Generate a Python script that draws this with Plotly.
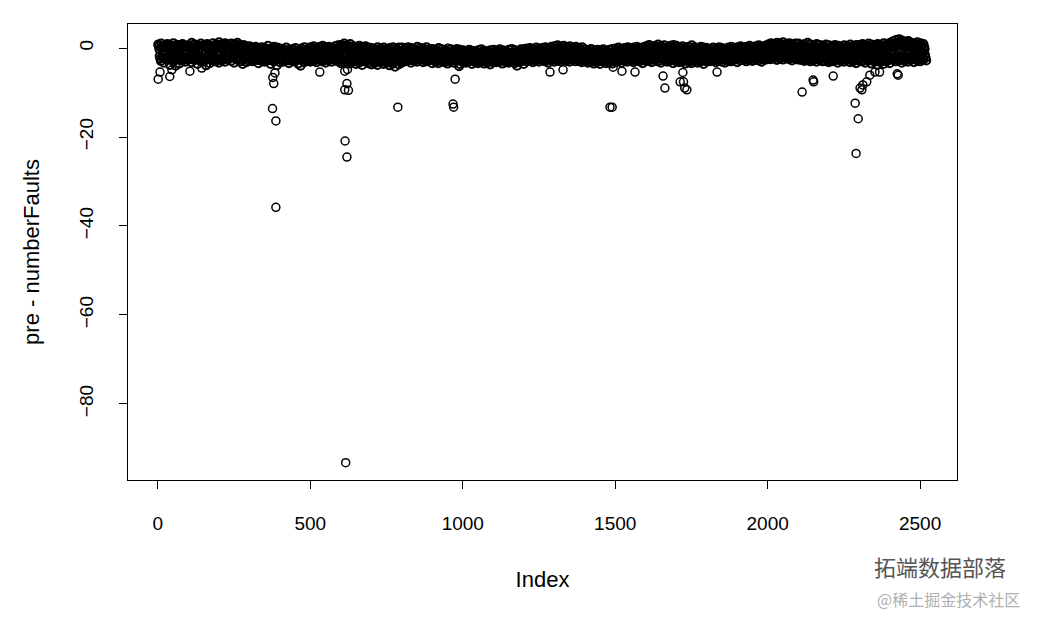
import numpy as np
import plotly.graph_objects as go

# Residuals (pre - numberFaults): main band read every 10th observation, in six layers
band_a = [0.8, 1.0, 0.4, 0.9, 0.6, 1.1, 0.7, 0.3, 0.9, 0.5,
          0.6, 1.2, 0.8, 0.5, 1.0, 0.7, 0.9, 0.4, 1.1, 0.8,
          1.3, 0.9, 1.1, 0.6, 1.0, 0.8, 1.2, 0.5, 0.7, 0.4,
          0.4, 0.1, 0.3, -0.2, 0.2, 0.0, 0.5, -0.1, 0.3, 0.1,
          -0.1, -0.3, 0.1, -0.4, -0.2, 0.0, -0.5, -0.1, 0.2, -0.3,
          0.2, 0.4, 0.0, 0.3, 0.5, 0.1, 0.3, -0.1, 0.4, 0.6,
          0.7, 1.0, 0.6, 0.9, 0.4, 0.3, 0.5, 0.2, 0.4, 0.1,
          0.0, -0.2, 0.2, -0.1, 0.1, -0.3, 0.0, 0.2, -0.2, 0.1,
          0.1, -0.1, 0.2, 0.0, -0.2, 0.3, 0.0, -0.1, 0.2, -0.3,
          -0.2, -0.4, 0.0, -0.3, -0.5, -0.1, -0.3, -0.6, -0.2, -0.4,
          -0.5, -0.7, -0.4, -0.6, -0.8, -0.5, -0.3, -0.6, -0.7, -0.5,
          -0.4, -0.6, -0.3, -0.5, -0.7, -0.4, -0.2, -0.5, -0.6, -0.3,
          -0.2, -0.1, 0.0, -0.3, 0.1, -0.1, 0.0, 0.2, -0.1, 0.3,
          0.4, 0.6, 0.3, 0.5, 0.2, 0.4, 0.1, 0.3, 0.0, 0.2,
          -0.3, -0.5, -0.2, -0.6, -0.4, -0.5, -0.3, -0.6, -0.4, -0.2,
          -0.1, 0.1, -0.2, 0.0, 0.2, -0.1, 0.1, 0.3, 0.0, 0.2,
          0.4, 0.7, 0.3, 0.5, 0.8, 0.4, 0.6, 0.2, 0.5, 0.7,
          0.5, 0.2, 0.4, 0.1, 0.3, 0.6, 0.2, 0.0, 0.3, 0.1,
          0.0, -0.2, 0.1, -0.1, 0.2, 0.0, -0.2, 0.1, 0.3, 0.0,
          0.2, 0.4, 0.1, 0.3, 0.5, 0.2, 0.4, 0.6, 0.3, 0.5,
          0.8, 1.1, 0.9, 1.2, 1.0, 1.3, 0.9, 1.1, 0.8, 1.0,
          1.0, 0.7, 0.9, 1.2, 0.8, 0.6, 0.9, 0.7, 0.5, 0.8,
          0.6, 0.4, 0.7, 0.5, 0.3, 0.6, 0.4, 0.8, 0.5, 0.7,
          0.7, 0.9, 0.6, 1.0, 0.8, 0.5, 0.9, 0.7, 1.1, 0.8,
          1.2, 1.5, 1.8, 2.0, 1.7, 1.4, 1.6, 1.2, 1.0, 1.3,
          1.1, 0.9]
band_e = [0.4, 0.2, 0.6, 0.3, 0.5, 0.1, 0.4, 0.7, 0.2, 0.5,
          0.3, 0.6, 0.2, 0.5, 0.1, 0.4, 0.6, 0.3, 0.5, 0.2,
          0.7, 0.5, 0.8, 0.4, 0.6, 0.3, 0.7, 0.2, 0.4, 0.1,
          -0.2, -0.4, 0.0, -0.3, -0.5, -0.1, -0.3, -0.6, -0.2, -0.4,
          -0.7, -0.9, -0.6, -0.8, -0.5, -0.9, -0.7, -0.6, -0.8, -1.0,
          -0.3, -0.1, -0.4, -0.2, 0.0, -0.3, -0.1, -0.5, -0.2, 0.0,
          0.3, 0.1, 0.4, 0.2, -0.1, -0.2, 0.0, -0.3, -0.1, -0.4,
          -0.6, -0.4, -0.7, -0.5, -0.8, -0.6, -0.4, -0.7, -0.5, -0.6,
          -0.5, -0.7, -0.4, -0.6, -0.8, -0.5, -0.6, -0.4, -0.7, -0.5,
          -0.9, -0.7, -1.0, -0.8, -0.6, -0.9, -1.1, -0.8, -0.7, -1.0,
          -1.1, -1.3, -1.0, -1.2, -1.4, -1.1, -0.9, -1.2, -1.3, -1.0,
          -1.0, -1.2, -0.9, -1.1, -0.8, -1.2, -1.0, -1.3, -0.9, -1.1,
          -0.6, -0.5, -0.7, -0.4, -0.6, -0.3, -0.5, -0.6, -0.4, -0.2,
          -0.2, 0.0, -0.3, -0.1, -0.4, -0.2, -0.5, -0.3, -0.4, -0.6,
          -1.0, -1.1, -0.8, -1.2, -0.9, -1.1, -0.8, -1.0, -1.2, -0.9,
          -0.6, -0.4, -0.7, -0.5, -0.3, -0.6, -0.4, -0.2, -0.5, -0.3,
          -0.1, 0.1, -0.2, 0.0, 0.2, -0.1, 0.0, -0.3, 0.1, 0.0,
          -0.2, -0.4, -0.1, -0.3, -0.5, -0.2, -0.3, -0.6, -0.4, -0.3,
          -0.5, -0.7, -0.4, -0.6, -0.3, -0.5, -0.7, -0.4, -0.2, -0.5,
          -0.3, -0.1, -0.4, -0.2, 0.0, -0.3, -0.1, 0.1, -0.2, 0.0,
          0.4, 0.6, 0.3, 0.5, 0.7, 0.4, 0.6, 0.3, 0.5, 0.4,
          0.3, 0.1, 0.4, 0.2, 0.0, 0.3, 0.1, -0.1, 0.2, 0.0,
          0.0, -0.2, 0.1, -0.1, -0.3, 0.0, -0.2, 0.2, -0.1, 0.1,
          0.2, 0.4, 0.1, 0.3, 0.0, 0.2, 0.4, 0.1, 0.5, 0.3,
          0.7, 0.9, 1.2, 1.4, 1.1, 0.8, 1.0, 0.6, 0.4, 0.7,
          0.5, 0.3]
band_b = [-0.3, 0.1, -0.6, -0.1, -0.4, 0.0, -0.5, -0.2, 0.2, -0.4,
          -0.2, -0.5, 0.0, -0.3, -0.6, 0.1, -0.4, -0.1, -0.5, 0.0,
          0.0, -0.3, 0.2, -0.5, -0.1, -0.4, 0.1, -0.6, -0.2, -0.5,
          -0.8, -1.1, -0.6, -0.9, -1.2, -0.7, -1.0, -0.8, -1.3, -0.6,
          -1.1, -1.4, -0.9, -1.2, -1.5, -1.0, -1.3, -0.8, -1.4, -1.1,
          -0.9, -0.6, -1.1, -0.8, -0.5, -1.0, -0.7, -1.2, -0.8, -0.6,
          -0.4, -0.2, -0.6, -0.3, -0.7, -0.8, -0.5, -0.9, -0.6, -1.0,
          -1.1, -1.3, -0.9, -1.2, -1.0, -1.4, -0.8, -1.1, -1.3, -0.9,
          -1.0, -1.2, -0.8, -1.1, -1.3, -0.9, -1.0, -1.2, -0.7, -1.1,
          -1.3, -1.1, -1.5, -1.2, -1.4, -1.0, -1.3, -1.6, -1.2, -1.4,
          -1.5, -1.3, -1.7, -1.4, -1.6, -1.2, -1.5, -1.8, -1.4, -1.6,
          -1.4, -1.6, -1.2, -1.5, -1.3, -1.7, -1.4, -1.2, -1.6, -1.4,
          -1.1, -0.9, -1.2, -1.0, -0.8, -1.1, -1.0, -0.7, -0.9, -0.8,
          -0.7, -0.5, -0.9, -0.6, -0.8, -0.6, -1.0, -0.7, -0.9, -1.1,
          -1.4, -1.2, -1.6, -1.3, -1.5, -1.4, -1.2, -1.6, -1.3, -1.1,
          -1.0, -1.2, -0.9, -1.1, -0.8, -1.0, -0.9, -0.7, -1.0, -0.8,
          -0.7, -0.5, -0.8, -0.6, -0.4, -0.7, -0.5, -0.9, -0.6, -0.4,
          -0.8, -1.0, -0.7, -0.9, -1.1, -0.8, -0.6, -1.0, -0.9, -1.1,
          -1.0, -1.2, -0.9, -1.1, -0.8, -1.0, -1.2, -0.9, -0.7, -1.0,
          -0.8, -0.6, -0.9, -0.7, -0.5, -0.8, -0.6, -0.4, -0.7, -0.5,
          -0.2, 0.0, -0.3, 0.1, -0.1, 0.2, -0.2, 0.0, -0.3, -0.1,
          -0.2, -0.4, -0.1, -0.3, -0.5, -0.2, -0.4, -0.6, -0.3, -0.5,
          -0.6, -0.8, -0.5, -0.7, -0.9, -0.6, -0.8, -0.4, -0.7, -0.5,
          -0.4, -0.2, -0.5, -0.3, -0.6, -0.4, -0.2, -0.5, -0.1, -0.3,
          0.2, 0.4, 0.6, 0.8, 0.5, 0.3, 0.4, 0.1, -0.1, 0.2,
          0.0, -0.2]
band_c = [-1.8, -1.5, -2.1, -1.6, -1.9, -1.3, -2.0, -1.7, -1.4, -2.2,
          -1.6, -2.0, -1.4, -1.8, -2.2, -1.5, -1.9, -1.7, -2.1, -1.3,
          -1.5, -1.8, -1.3, -2.0, -1.6, -1.2, -1.9, -1.4, -1.7, -2.0,
          -1.9, -2.2, -1.7, -2.0, -2.3, -1.8, -2.1, -1.6, -2.2, -1.9,
          -2.0, -2.3, -1.8, -2.2, -1.9, -2.4, -2.1, -1.7, -2.2, -2.0,
          -1.9, -2.2, -1.7, -2.0, -1.6, -2.3, -1.8, -2.1, -1.7, -2.0,
          -1.8, -1.6, -2.0, -1.7, -2.1, -2.2, -1.9, -2.3, -2.0, -2.4,
          -2.2, -2.5, -2.0, -2.3, -2.6, -2.1, -2.4, -1.9, -2.3, -2.1,
          -2.0, -1.8, -2.2, -1.9, -2.1, -1.7, -2.3, -2.0, -1.8, -2.2,
          -2.2, -2.4, -2.0, -2.3, -2.1, -2.5, -2.2, -1.9, -2.4, -2.1,
          -2.4, -2.2, -2.6, -2.3, -2.5, -2.1, -2.4, -2.7, -2.3, -2.5,
          -2.3, -2.1, -2.5, -2.2, -2.4, -2.0, -2.3, -2.6, -2.2, -2.4,
          -2.0, -2.2, -1.8, -2.1, -1.9, -2.3, -2.0, -1.7, -2.1, -1.9,
          -1.8, -1.6, -2.0, -1.7, -1.9, -1.5, -2.0, -1.8, -2.1, -2.2,
          -2.3, -2.5, -2.1, -2.4, -2.2, -2.6, -2.3, -2.1, -2.4, -2.2,
          -2.0, -1.8, -2.2, -1.9, -2.1, -1.8, -2.0, -1.7, -2.1, -1.9,
          -1.8, -1.6, -2.0, -1.7, -1.9, -1.5, -1.8, -2.1, -1.7, -1.9,
          -2.0, -1.8, -2.2, -1.9, -2.1, -1.7, -2.0, -2.3, -1.9, -2.1,
          -2.0, -2.2, -1.8, -2.1, -1.9, -2.0, -2.3, -1.8, -1.9, -2.1,
          -1.8, -1.9, -1.6, -1.8, -1.7, -1.9, -1.6, -1.8, -1.5, -1.7,
          -1.3, -1.1, -1.5, -1.2, -1.4, -1.0, -1.3, -1.5, -1.2, -1.4,
          -1.5, -1.7, -1.4, -1.6, -1.8, -1.5, -1.7, -1.9, -1.6, -1.8,
          -1.8, -1.9, -1.6, -2.0, -1.7, -1.9, -1.6, -1.8, -2.0, -1.7,
          -1.7, -1.5, -1.9, -1.6, -1.8, -2.0, -1.7, -1.9, -1.6, -1.8,
          -1.2, -1.0, -0.8, -0.9, -1.1, -1.3, -1.0, -1.4, -1.2, -1.1,
          -1.3, -1.5]
band_f = [-2.4, -2.2, -2.6, -2.3, -2.5, -4.0, -2.4, -2.2, -2.6, -2.3,
          -2.5, -2.3, -2.6, -2.2, -2.4, -3.9, -2.5, -2.3, -2.7, -2.4,
          -2.2, -2.4, -2.0, -2.3, -2.1, -2.5, -2.2, -3.6, -2.3, -2.1,
          -2.5, -2.3, -2.7, -2.4, -2.6, -2.2, -2.5, -2.8, -2.4, -2.6,
          -2.6, -2.4, -2.8, -2.5, -2.7, -2.3, -4.0, -2.5, -2.7, -2.4,
          -2.4, -2.6, -2.3, -2.5, -2.7, -2.4, -2.2, -2.6, -2.5, -2.3,
          -2.7, -2.5, -2.9, -2.6, -2.8, -2.7, -3.0, -2.6, -2.9, -2.8,
          -2.9, -3.1, -2.8, -3.0, -2.7, -3.2, -2.9, -4.2, -2.8, -3.0,
          -2.5, -2.3, -2.7, -2.4, -2.6, -2.2, -2.5, -2.7, -2.4, -2.6,
          -2.7, -2.9, -2.6, -2.8, -2.5, -2.9, -2.7, -2.6, -4.1, -2.8,
          -2.8, -3.0, -2.7, -2.9, -2.6, -3.0, -2.8, -2.9, -2.7, -3.1,
          -2.7, -2.9, -2.6, -2.8, -3.0, -2.7, -2.9, -4.0, -2.6, -2.8,
          -2.5, -2.3, -2.6, -2.4, -2.6, -2.3, -2.5, -2.7, -2.4, -2.6,
          -2.3, -2.1, -2.4, -2.2, -2.5, -2.3, -2.4, -2.2, -2.5, -2.3,
          -2.8, -2.6, -2.9, -2.7, -3.0, -2.8, -2.6, -2.9, -2.7, -2.8,
          -2.5, -2.3, -2.6, -2.4, -2.5, -2.7, -2.3, -2.5, -2.6, -2.4,
          -2.4, -2.6, -2.3, -2.5, -2.2, -2.6, -2.4, -2.7, -2.3, -2.5,
          -2.6, -2.8, -2.5, -2.7, -2.9, -2.6, -2.8, -2.5, -2.7, -2.9,
          -2.5, -2.3, -2.6, -2.4, -2.6, -2.3, -2.5, -2.7, -2.4, -2.5,
          -2.3, -2.1, -2.4, -2.2, -2.3, -2.1, -2.4, -2.2, -2.3, -2.0,
          -2.0, -1.8, -2.1, -1.9, -2.0, -1.8, -2.1, -1.9, -2.0, -2.2,
          -2.2, -2.4, -2.1, -2.3, -2.5, -2.2, -2.4, -2.3, -2.2, -2.5,
          -2.4, -2.6, -2.3, -2.5, -2.4, -2.6, -2.3, -2.5, -2.7, -2.4,
          -2.5, -2.3, -2.6, -2.4, -2.7, -2.5, -2.8, -2.6, -2.4, -2.7,
          -2.2, -2.0, -2.3, -2.1, -2.4, -2.2, -2.0, -2.3, -2.1, -2.2,
          -2.0, -2.2]
band_d = [-2.9, -3.3, -2.6, -3.8, -3.0, -2.7, -3.5, -2.8, -3.1, -2.6,
          -3.2, -2.7, -3.6, -2.9, -3.1, -2.6, -3.4, -2.8, -3.0, -3.3,
          -2.8, -3.1, -2.5, -2.9, -3.3, -2.6, -3.0, -2.7, -3.2, -2.9,
          -3.0, -2.7, -3.4, -2.9, -3.1, -2.8, -3.6, -3.0, -3.9, -3.2,
          -3.1, -2.8, -3.4, -2.9, -3.0, -3.5, -2.7, -3.2, -2.9, -3.1,
          -2.9, -3.2, -2.7, -3.0, -3.3, -2.8, -3.1, -2.6, -3.0, -3.4,
          -3.2, -2.9, -3.5, -3.1, -3.6, -3.3, -3.8, -3.0, -3.4, -3.7,
          -3.4, -3.8, -3.2, -3.6, -3.3, -3.9, -3.5, -3.1, -3.7, -3.3,
          -3.0, -2.8, -3.3, -2.9, -3.1, -2.7, -3.2, -3.0, -2.8, -3.4,
          -3.1, -3.4, -2.9, -3.2, -3.5, -3.0, -3.3, -2.9, -3.6, -3.2,
          -3.3, -3.1, -3.6, -3.2, -3.4, -3.0, -3.5, -3.3, -3.7, -3.2,
          -3.2, -3.0, -3.5, -3.1, -3.3, -2.9, -3.4, -3.2, -3.0, -3.6,
          -3.0, -2.8, -3.2, -2.9, -3.1, -2.7, -3.0, -3.3, -2.8, -3.1,
          -2.8, -3.0, -2.6, -2.9, -3.1, -2.7, -3.0, -2.8, -3.2, -3.0,
          -3.3, -3.1, -3.5, -3.2, -3.6, -3.0, -3.4, -3.2, -3.5, -3.1,
          -3.0, -3.3, -2.8, -3.1, -2.9, -3.2, -2.8, -3.0, -3.4, -2.9,
          -2.9, -3.2, -2.7, -3.0, -3.3, -2.8, -3.1, -2.9, -3.4, -3.0,
          -3.2, -3.0, -3.5, -3.1, -3.4, -2.9, -3.3, -3.1, -3.6, -3.0,
          -3.0, -2.8, -3.2, -2.9, -3.1, -3.3, -2.9, -3.0, -2.7, -3.2,
          -2.8, -2.6, -3.0, -2.7, -2.9, -2.6, -2.8, -3.1, -2.7, -2.5,
          -2.5, -2.3, -2.7, -2.4, -2.6, -2.2, -2.5, -2.8, -2.4, -2.6,
          -2.7, -2.9, -2.6, -3.0, -2.8, -3.1, -2.7, -3.0, -2.9, -3.2,
          -3.0, -2.8, -3.3, -2.9, -3.1, -2.7, -3.2, -3.0, -3.4, -2.9,
          -3.0, -3.3, -2.8, -3.5, -3.1, -3.8, -3.2, -3.6, -3.0, -3.4,
          -2.6, -3.0, -2.8, -3.3, -2.9, -3.1, -2.7, -3.2, -2.8, -3.0,
          -2.6, -2.8]
band_layers = [band_a, band_e, band_b, band_c, band_f, band_d]
band_start = [1, 3, 5, 6, 8, 10]   # first observation index of each layer
band_step = 10                      # every 10th observation

# Isolated observations away from the band
out_idx = [1, 39, 7, 46, 105, 144, 384, 377, 380, 376, 387, 387,
           531, 613, 620, 625, 613, 614, 620, 616, 622,
           787, 968, 970, 975, 1286, 1329, 1483, 1490, 1493, 1522, 1565,
           1657, 1663, 1713, 1722, 1724, 1728, 1735, 1834,
           2113, 2149, 2151, 2215, 2287, 2290, 2297, 2303, 2309, 2312,
           2325, 2335, 2352, 2367, 2425, 2428]
out_val = [-7.0, -6.4, -5.4, -4.9, -5.2, -4.5, -5.6, -6.6, -8.0, -13.6, -16.4, -35.8,
           -5.4, -5.2, -8.0, -9.5, -9.4, -20.9, -24.5, -93.2, -4.8,
           -13.3, -12.6, -13.3, -7.0, -5.4, -4.9, -13.3, -13.3, -4.3, -5.2, -5.4,
           -6.3, -9.0, -7.6, -5.5, -7.6, -9.0, -9.4, -5.4,
           -9.9, -7.2, -7.6, -6.3, -12.4, -23.7, -15.9, -9.0, -9.4, -8.3,
           -7.6, -6.1, -5.4, -5.4, -5.8, -6.1]

x_ticks = [0, 500, 1000, 1500, 2000, 2500]
y_ticks = [0, -20, -40, -60, -80]

bx, by = [], []
for start, vals in zip(band_start, band_layers):
    bx.extend(start + band_step * np.arange(len(vals)))
    by.extend(vals)

FONT = "Liberation Sans, Arial, sans-serif"
fig = go.Figure()
fig.add_trace(go.Scatter(
    x=bx, y=by, mode="markers",
    marker=dict(symbol="circle-open", size=8, color="black", line=dict(width=2.0, color="black")),
    showlegend=False, hoverinfo="skip"))
fig.add_trace(go.Scatter(
    x=out_idx, y=out_val, mode="markers",
    marker=dict(symbol="circle-open", size=8, color="black", line=dict(width=1.5, color="black")),
    showlegend=False, hoverinfo="skip"))

fig.update_layout(
    width=1041, height=621,
    margin=dict(l=120, r=92, t=16, b=149),
    paper_bgcolor="white", plot_bgcolor="white",
    font=dict(family=FONT, size=19, color="black"),
)
fig.update_xaxes(
    range=[-98, 2621], tickvals=x_ticks, ticks="outside", ticklen=8, tickwidth=1,
    tickcolor="black", showgrid=False, zeroline=False, showline=True, linecolor="black",
    linewidth=1.3, mirror=True, tickfont=dict(size=19), ticklabelstandoff=18,
    title=dict(text="Index", font=dict(size=22), standoff=38))
fig.update_yaxes(
    range=[-97.1, 5.4], tickvals=y_ticks, ticks="outside", ticklen=8, tickwidth=1,
    tickcolor="black", showgrid=False, zeroline=False, showline=True, linecolor="black",
    linewidth=1.3, mirror=True, tickangle=-90, tickfont=dict(size=19), ticklabelstandoff=18,
    title=dict(text="pre - numberFaults", font=dict(size=22), standoff=30))

fig.add_annotation(text="拓端数据部落", xref="paper", yref="paper", x=1.0615, y=-0.188,
                   xanchor="right", yanchor="middle", showarrow=False,
                   font=dict(family="Noto Sans CJK SC", size=22, color="#555555"))
fig.add_annotation(text="@稀土掘金技术社区", xref="paper", yref="paper", x=1.078, y=-0.262,
                   xanchor="right", yanchor="middle", showarrow=False,
                   font=dict(family="Noto Sans CJK SC", size=16, color="#b0b0b0"))

fig.write_html("out.html")
